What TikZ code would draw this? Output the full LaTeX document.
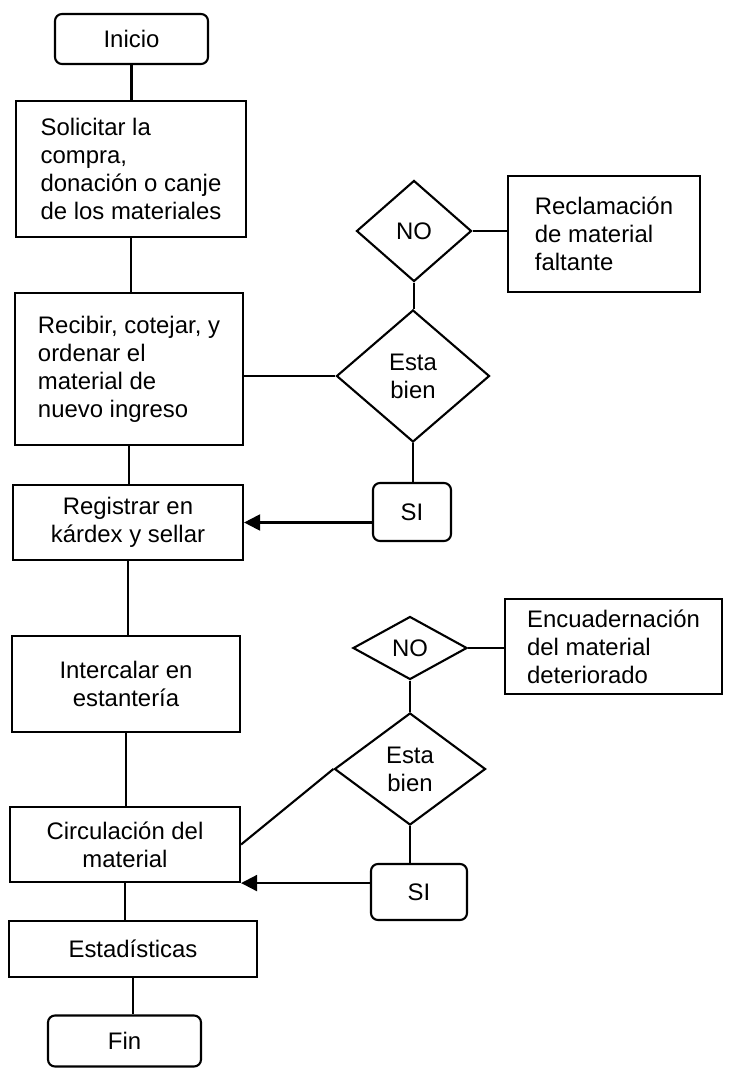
\documentclass[tikz,border=0pt]{standalone}
\usepackage{fontspec}
\setmainfont{Liberation Sans}
\usetikzlibrary{arrows.meta,positioning,shapes.geometric}
\tikzset{box/.style={draw=black,line width=1.5pt,align=center,inner sep=0pt,font=\fontsize{17pt}{19.9pt}\selectfont},term/.style={box,rounded corners=5pt},decision/.style={box,diamond},link/.style={draw=black,line width=1.5pt},arrow/.style={link,-{Triangle[length=4mm,width=4mm]}}}

\begin{document}
\begin{tikzpicture}[x=0.025cm,y=-0.025cm]
\useasboundingbox (0,0) rectangle (731,1070);
\node[term,minimum width=3.825cm,minimum height=1.25cm] (inicio) at (131.5,39) {Inicio};
\node[box,align=left,minimum width=5.75cm,minimum height=3.4cm] (solicitar) at (131,169) {Solicitar la\\compra,\\donación o canje\\de los materiales};
\node[box,align=left,minimum width=5.7cm,minimum height=3.8cm] (recibir) at (129,369) {Recibir, cotejar, y\\ordenar el\\material de\\nuevo ingreso};
\node[box,minimum width=5.75cm,minimum height=1.875cm] (registrar) at (128,522.5) {Registrar en\\kárdex y sellar};
\node[box,minimum width=5.7cm,minimum height=2.4cm] (intercalar) at (126,684) {Intercalar en\\estantería};
\node[box,minimum width=5.75cm,minimum height=1.875cm] (circulacion) at (125,844.5) {Circulación del\\material};
\node[box,minimum width=6.2cm,minimum height=1.4cm] (estadisticas) at (133,949) {Estadísticas};
\node[term,minimum width=3.825cm,minimum height=1.275cm] (fin) at (124.5,1041) {Fin};
\node[decision,minimum width=2.875cm,minimum height=2.525cm] (no1) at (414,231) {NO};
\node[box,align=left,minimum width=4.8cm,minimum height=2.9cm] (reclamo) at (604,234) {Reclamación\\de material\\faltante};
\node[decision,minimum width=3.825cm,minimum height=3.3cm] (bien1) at (413,376) {Esta\\bien};
\node[term,minimum width=1.95cm,minimum height=1.45cm] (si1) at (412,512) {SI};
\node[decision,aspect=2,minimum width=2.85cm,minimum height=1.575cm] (no2) at (410,648) {NO};
\node[box,align=left,minimum width=5.425cm,minimum height=2.375cm] (encuad) at (613.5,646.5) {Encuadernación\\del material\\deteriorado};
\node[decision,minimum width=3.775cm,minimum height=2.8cm] (bien2) at (410,769) {Esta\\bien};
\node[term,minimum width=2.4cm,minimum height=1.4cm] (si2) at (419,892) {SI};
\draw[link] (inicio.south) -- (inicio.south |- solicitar.north);
\draw[link] (solicitar.south) -- (solicitar.south |- recibir.north);
\draw[link] (recibir.south) -- (recibir.south |- registrar.north);
\draw[link] (registrar.south) -- (registrar.south |- intercalar.north);
\draw[link] (intercalar.south) -- (intercalar.south |- circulacion.north);
\draw[link] (circulacion.south) -- (circulacion.south |- estadisticas.north);
\draw[link] (estadisticas.south) -- (estadisticas.south |- fin.north);
\draw[link] (no1.east) -- (no1.east -| reclamo.west);
\draw[link] (no1.south) -- (no1.south |- bien1.north);
\draw[link] (bien1.west) -- (bien1.west -| recibir.east);
\draw[link] (bien1.south) -- (bien1.south |- si1.north);
\draw[arrow] (si1.west |- registrar.east) -- (registrar.east);
\draw[link] (no2.east) -- (no2.east -| encuad.west);
\draw[link] (no2.south) -- (no2.south |- bien2.north);
\draw[link] (bien2.west) -- (circulacion.east);
\draw[link] (bien2.south) -- (bien2.south |- si2.north);
\draw[arrow] (si2.west |- circulacion.south east) -- (circulacion.south east);
\end{tikzpicture}
\end{document}
